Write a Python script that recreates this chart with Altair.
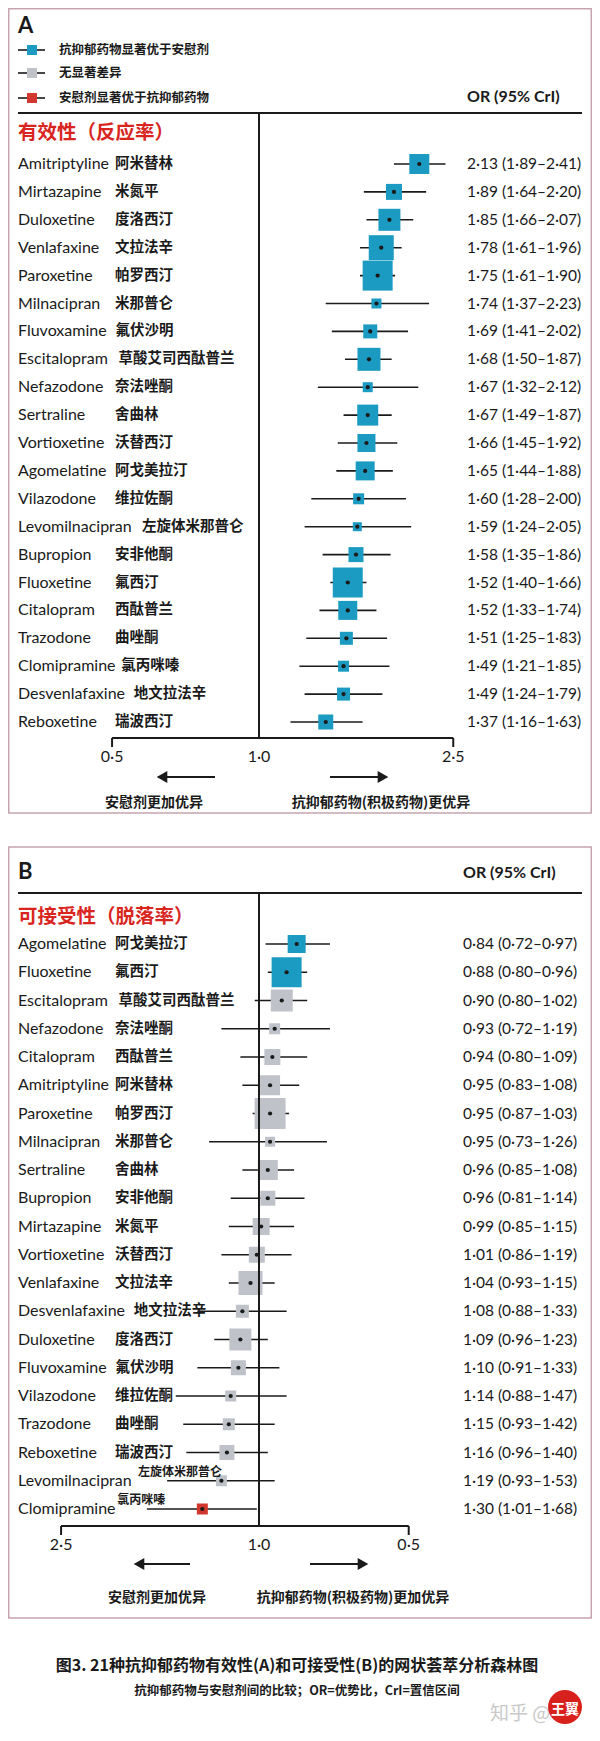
import altair as alt
import pandas as pd

# ---------------- data ----------------
# Panel A: efficacy (response rate)
a_en = ["Amitriptyline", "Mirtazapine", "Duloxetine", "Venlafaxine", "Paroxetine", "Milnacipran",
        "Fluvoxamine", "Escitalopram", "Nefazodone", "Sertraline", "Vortioxetine", "Agomelatine",
        "Vilazodone", "Levomilnacipran", "Bupropion", "Fluoxetine", "Citalopram", "Trazodone",
        "Clomipramine", "Desvenlafaxine", "Reboxetine"]
a_cn = ["阿米替林", "米氮平", "度洛西汀", "文拉法辛", "帕罗西汀", "米那普仑", "氟伏沙明", "草酸艾司西酞普兰",
        "奈法唑酮", "舍曲林", "沃替西汀", "阿戈美拉汀", "维拉佐酮", "左旋体米那普仑", "安非他酮", "氟西汀",
        "西酞普兰", "曲唑酮", "氯丙咪嗪", "地文拉法辛", "瑞波西汀"]
a_or = [2.13, 1.89, 1.85, 1.78, 1.75, 1.74, 1.69, 1.68, 1.67, 1.67, 1.66, 1.65, 1.60, 1.59, 1.58,
        1.52, 1.52, 1.51, 1.49, 1.49, 1.37]
a_lo = [1.89, 1.64, 1.66, 1.61, 1.61, 1.37, 1.41, 1.50, 1.32, 1.49, 1.45, 1.44, 1.28, 1.24, 1.35,
        1.40, 1.33, 1.25, 1.21, 1.24, 1.16]
a_hi = [2.41, 2.20, 2.07, 1.96, 1.90, 2.23, 2.02, 1.87, 2.12, 1.87, 1.92, 1.88, 2.00, 2.05, 1.86,
        1.66, 1.74, 1.83, 1.85, 1.79, 1.63]
a_weight = [20, 16, 22, 25, 30, 10, 14, 23, 10, 21, 18, 19, 11, 9, 15, 30, 19, 13, 11, 13, 15]
a_group = ["better"] * 21

# Panel B: acceptability (dropout)
b_en = ["Agomelatine", "Fluoxetine", "Escitalopram", "Nefazodone", "Citalopram", "Amitriptyline",
        "Paroxetine", "Milnacipran", "Sertraline", "Bupropion", "Mirtazapine", "Vortioxetine",
        "Venlafaxine", "Desvenlafaxine", "Duloxetine", "Fluvoxamine", "Vilazodone", "Trazodone",
        "Reboxetine", "Levomilnacipran", "Clomipramine"]
b_cn = ["阿戈美拉汀", "氟西汀", "草酸艾司西酞普兰", "奈法唑酮", "西酞普兰", "阿米替林", "帕罗西汀", "米那普仑",
        "舍曲林", "安非他酮", "米氮平", "沃替西汀", "文拉法辛", "地文拉法辛", "度洛西汀", "氟伏沙明",
        "维拉佐酮", "曲唑酮", "瑞波西汀", "左旋体米那普仑", "氯丙咪嗪"]
b_or = [0.84, 0.88, 0.90, 0.93, 0.94, 0.95, 0.95, 0.95, 0.96, 0.96, 0.99, 1.01, 1.04, 1.08, 1.09,
        1.10, 1.14, 1.15, 1.16, 1.19, 1.30]
b_lo = [0.72, 0.80, 0.80, 0.72, 0.80, 0.83, 0.87, 0.73, 0.85, 0.81, 0.85, 0.86, 0.93, 0.88, 0.96,
        0.91, 0.88, 0.93, 0.96, 0.93, 1.01]
b_hi = [0.97, 0.96, 1.02, 1.19, 1.09, 1.08, 1.03, 1.26, 1.08, 1.14, 1.15, 1.19, 1.15, 1.33, 1.23,
        1.33, 1.47, 1.42, 1.40, 1.53, 1.68]
b_weight = [18, 30, 22, 11, 16, 20, 31, 10, 20, 15, 17, 16, 24, 13, 22, 15, 11, 12, 15, 11, 11]
b_group = ["better", "better"] + ["ns"] * 18 + ["worse"]
b_superscript = ["Levomilnacipran", "Clomipramine"]

ticks = [0.5, 1.0, 2.5]
groups = ["better", "ns", "worse"]
group_colors = ["#1b9ac2", "#bfc3c9", "#d1372f"]
legend_labels = ["抗抑郁药物显著优于安慰剂", "无显著差异", "安慰剂显著优于抗抑郁药物"]

# ---------------- styling ----------------
FONT_EN = "Lato"
FONT_CN = "Noto Sans CJK SC"
INK = "#1a1a1a"
RED = "#d8261f"
FRAME = "#c6a5b0"
W = 584
EN_SIZE = 16
CN_SIZE = 14.5


def frame_df(en, cn, o, lo, hi, w, g, sup=None):
    sup = sup or []
    lab = [f"{a:.2f} ({b:.2f}–{c:.2f})".replace(".", "·") for a, b, c in zip(o, lo, hi)]
    return pd.DataFrame({"en": en, "cn": cn, "or": o, "lo": lo, "hi": hi, "w": w, "grp": g,
                         "lab": lab, "sup": [e in sup for e in en]})


def one():
    return alt.Data(values=[{"k": 0}])


def txt(s, x, y, size, font=FONT_CN, weight="bold", color=INK, align="left"):
    return alt.Chart(one()).mark_text(text=s, font=font, fontSize=size, fontWeight=weight,
                                      color=color, align=align, baseline="middle").encode(
        x=alt.value(x), y=alt.value(y))


def hrule(x1, x2, y, width=2.0, color=INK):
    return alt.Chart(one()).mark_rule(color=color, strokeWidth=width).encode(
        x=alt.value(x1), x2=alt.value(x2), y=alt.value(y))


def tri(shape, x, y):
    return alt.Chart(one()).mark_point(shape=shape, filled=True, size=150, color=INK, opacity=1).encode(
        x=alt.value(x), y=alt.value(y))


def frame(y1, y2):
    return alt.Chart(one()).mark_rect(fillOpacity=0, stroke=FRAME, strokeWidth=1.5).encode(
        x=alt.value(0.75), x2=alt.value(W - 0.75), y=alt.value(y1), y2=alt.value(y2))


# estimated width of an English name (Lato) -> x of Chinese name
WIDTH_EXPR = (f"{EN_SIZE}*(0.53*length(datum.en)"
              " - 0.29*length(replace(datum.en, regexp('[^ilj]','g'), ''))"
              " - 0.17*length(replace(datum.en, regexp('[^tfr]','g'), ''))"
              " + 0.29*length(replace(datum.en, regexp('[^mw]','g'), ''))"
              " + 0.12*length(replace(datum.en, regexp('[^A-Z]','g'), '')))")


def forest(df, en_order, xscale, rows, y_hline, y_axis, or_x):
    base = alt.Chart(df).transform_calculate(
        area="datum.w*datum.w",
        cnx="max(107, 17 + " + WIDTH_EXPR + ")",
        supx="13 + " + WIDTH_EXPR,
    ).encode(y=alt.Y("en:N", sort=en_order,
                     scale=alt.Scale(type="point", range=rows, padding=0), axis=None))

    ci = base.mark_rule(color=INK, strokeWidth=1.6).encode(
        x=alt.X("lo:Q", scale=xscale, axis=None), x2="hi:Q")
    box = base.mark_square(opacity=1).encode(
        x="or:Q",
        size=alt.Size("area:Q", scale=None, legend=None),
        color=alt.Color("grp:N", scale=alt.Scale(domain=groups, range=group_colors), legend=None))
    dot = base.mark_circle(size=18, color=INK, opacity=1).encode(x="or:Q")
    en_t = base.mark_text(align="left", baseline="middle", font=FONT_EN, fontSize=EN_SIZE,
                          color=INK).encode(x=alt.value(10), text="en:N")
    cn_t = base.transform_filter("!datum.sup").mark_text(
        align="left", baseline="middle", font=FONT_CN, fontSize=CN_SIZE, fontWeight="bold",
        color=INK).encode(x=alt.X("cnx:Q", scale=None), text="cn:N")
    cn_sup = base.transform_filter("datum.sup").mark_text(
        align="left", baseline="middle", font=FONT_CN, fontSize=12, fontWeight="bold",
        color=INK, dy=-9).encode(x=alt.X("supx:Q", scale=None), text="cn:N")
    or_t = base.mark_text(align="left", baseline="middle", font=FONT_EN, fontSize=15.5,
                          color=INK).encode(x=alt.value(or_x), text="lab:N")

    ref = alt.Chart(one()).mark_rule(color=INK, strokeWidth=2).encode(
        x=alt.X(datum=1.0, type="quantitative"), y=alt.value(y_hline), y2=alt.value(y_axis))
    axis_line = alt.Chart(one()).mark_rule(color=INK, strokeWidth=2).encode(
        x=alt.X(datum=ticks[0], type="quantitative"), x2=alt.X2(datum=ticks[-1]),
        y=alt.value(y_axis))
    tdf = alt.Chart(pd.DataFrame({"t": ticks}))
    tick_marks = tdf.transform_filter("datum.t != 1").mark_rule(color=INK, strokeWidth=2).encode(
        x="t:Q", y=alt.value(y_axis), y2=alt.value(y_axis + 9))
    tick_lab = tdf.transform_calculate(tl="replace(format(datum.t, '.1f'), '.', '·')").mark_text(
        font=FONT_EN, fontSize=16, color=INK, baseline="middle").encode(
        x="t:Q", y=alt.value(y_axis + 19), text="tl:N")
    return [ci, box, dot, en_t, cn_t, cn_sup, or_t, ref, axis_line, tick_marks, tick_lab]


LOG_K_A = 212
LOG_K_B = 216
C1 = 251
scale_a = alt.Scale(type="log", domain=[0.5, 2.5], nice=False,
                    range=[C1 - 0.6931 * LOG_K_A, C1 + 0.9163 * LOG_K_A])
scale_b = alt.Scale(type="log", domain=[0.5, 2.5], nice=False,
                    range=[C1 + 0.6931 * LOG_K_B, C1 - 0.9163 * LOG_K_B])

# ---------------- panel A ----------------
df_a = frame_df(a_en, a_cn, a_or, a_lo, a_hi, a_weight, a_group)
legend_layers = []
for i, (lab, col) in enumerate(zip(legend_labels, group_colors)):
    yy = [42, 65, 90][i]
    legend_layers += [
        hrule(10, 37, yy, 1.6),
        alt.Chart(one()).mark_square(size=100, color=col, opacity=1).encode(
            x=alt.value(24), y=alt.value(yy)),
        txt(lab, 51, yy, 12.5),
    ]

panel_a = alt.layer(
    frame(0.75, 805),
    txt("A", 10, 18, 22, font=FONT_EN),
    *legend_layers,
    txt("OR (95% CrI)", 459, 89, 16, font=FONT_EN),
    hrule(10, 574, 105),
    txt("有效性（反应率）", 10, 125, 19.5, color=RED),
    *forest(df_a, a_en, scale_a, [156, 714], 105, 730, 459),
    hrule(152, 207, 769), tri("triangle-left", 154, 769),
    hrule(322, 377, 769), tri("triangle-right", 375, 769),
    txt("安慰剂更加优异", 146, 795, 14, align="center"),
    txt("抗抑郁药物(积极药物)更优异", 373, 795, 14, align="center"),
).properties(width=W, height=835)

# ---------------- panel B ----------------
df_b = frame_df(b_en, b_cn, b_or, b_lo, b_hi, b_weight, b_group, b_superscript)
panel_b = alt.layer(
    frame(4, 775),
    txt("B", 10, 29, 22, font=FONT_EN),
    txt("OR (95% CrI)", 455, 30, 16, font=FONT_EN),
    hrule(10, 574, 50),
    txt("可接受性（脱落率）", 10, 74, 19.5, color=RED),
    *forest(df_b, b_en, scale_b, [101, 666], 50, 683, 455),
    hrule(129, 182, 721), tri("triangle-left", 131, 721),
    hrule(302, 355, 721), tri("triangle-right", 355, 721),
    txt("安慰剂更加优异", 149, 755, 14, align="center"),
    txt("抗抑郁药物(积极药物)更加优异", 345, 755, 14, align="center"),
).properties(width=W, height=783)

# ---------------- caption ----------------
caption = alt.layer(
    txt("图3. 21种抗抑郁药物有效性(A)和可接受性(B)的网状荟萃分析森林图", 289, 40, 16, align="center"),
    txt("抗抑郁药物与安慰剂间的比较；OR=优势比，CrI=置信区间", 289, 65, 12.5, align="center"),
    txt("知乎 @", 482, 88, 19, weight="normal", color="#c9c9c9"),
    alt.Chart(one()).mark_circle(size=1150, color="#d8201c", opacity=1).encode(
        x=alt.value(557), y=alt.value(81)),
    txt("王翼", 557, 84, 14, color="white", align="center"),
).properties(width=W, height=103)

chart = alt.vconcat(panel_a, panel_b, caption, spacing=0).properties(
    padding=0, bounds="flush", background="white"
).configure_view(stroke=None)

chart.save("out.html", embed_options={"renderer": "svg", "actions": False})
